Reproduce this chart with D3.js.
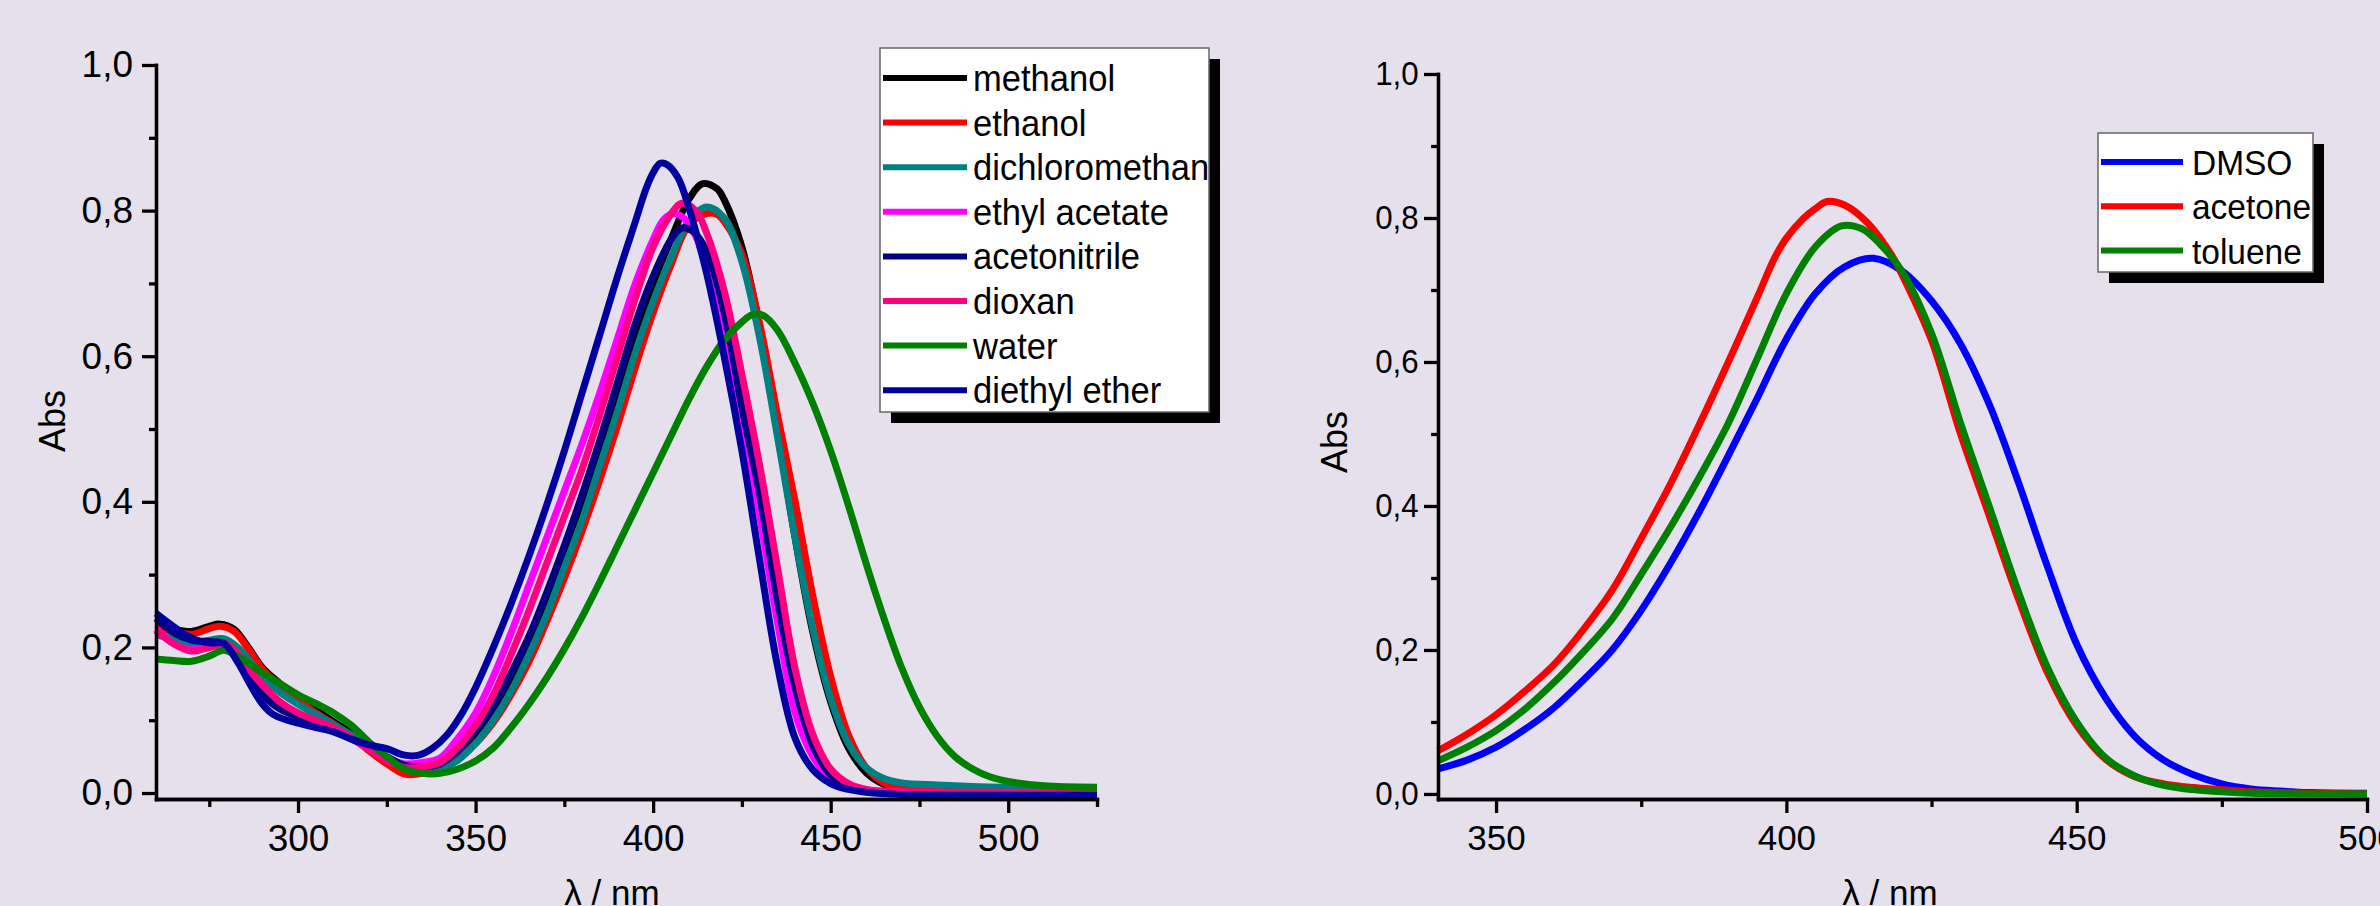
<!DOCTYPE html>
<html>
<head>
<meta charset="utf-8">
<script src="https://cdn.jsdelivr.net/npm/d3@7"></script>
<style>
body { margin: 0; background: #e5e0ec; }
svg { display: block; font-family: "Liberation Sans", Arial, sans-serif; }
</style>
</head>
<body>
<svg id="chart" width="2380" height="906"></svg>
<script>
// left panel: [wavelength nm, absorbance]
var methanol = [[260,.232],[265,.225],[270,.222],[275,.229],[278,.232],[282,.225],[286,.2],[290,.172],[295,.15],[300,.13],[305,.114],[310,.098],[315,.082],[320,.062],[325,.043],[330,.027],[335,.028],[340,.035],[345,.05],[350,.075],[355,.112],[360,.155],[365,.205],[370,.26],[375,.325],[380,.39],[385,.46],[390,.54],[395,.625],[400,.7],[405,.76],[410,.815],[414,.837],[418,.83],[420,.815],[425,.75],[430,.64],[435,.5],[440,.35],[445,.22],[450,.125],[455,.062],[460,.028],[465,.012],[470,.006],[480,.003],[500,.001],[525,0]];
var ethanol = [[260,.228],[265,.222],[270,.218],[275,.226],[278,.229],[282,.222],[286,.198],[290,.17],[295,.147],[300,.128],[305,.11],[310,.095],[315,.078],[320,.058],[325,.04],[330,.026],[335,.027],[340,.035],[345,.048],[350,.068],[355,.097],[360,.135],[365,.18],[370,.235],[375,.295],[380,.36],[385,.43],[390,.505],[395,.585],[400,.66],[405,.725],[410,.78],[415,.796],[418,.795],[420,.785],[425,.74],[430,.645],[435,.52],[440,.4],[445,.27],[450,.16],[455,.08],[460,.035],[465,.014],[470,.006],[480,.003],[500,.002],[525,.001]];
var dichloromethan = [[260,.217],[265,.212],[270,.205],[275,.21],[279,.212],[283,.2],[287,.178],[290,.16],[295,.138],[300,.122],[305,.108],[310,.094],[315,.08],[320,.064],[325,.048],[330,.035],[335,.03],[340,.033],[345,.045],[350,.068],[355,.1],[360,.14],[365,.19],[370,.245],[375,.31],[380,.375],[385,.45],[390,.525],[395,.605],[400,.675],[405,.735],[410,.785],[415,.805],[420,.79],[425,.73],[430,.625],[435,.49],[440,.35],[445,.225],[450,.13],[455,.068],[460,.035],[465,.02],[470,.014],[480,.011],[490,.009],[500,.008],[525,.007]];
var ethylAcetate = [[260,.225],[265,.205],[270,.197],[275,.2],[279,.204],[283,.19],[287,.16],[290,.14],[295,.118],[300,.105],[305,.096],[310,.087],[315,.075],[320,.06],[325,.048],[330,.04],[335,.042],[340,.048],[345,.075],[350,.11],[355,.16],[360,.22],[365,.285],[370,.35],[375,.415],[380,.48],[385,.55],[390,.625],[395,.7],[400,.76],[403,.788],[406,.796],[409,.788],[412,.765],[415,.72],[420,.62],[425,.51],[430,.38],[435,.235],[440,.11],[445,.05],[450,.02],[455,.008],[460,.003],[470,.001],[500,0],[525,0]];
var acetonitrile = [[260,.24],[265,.22],[270,.21],[275,.208],[279,.206],[283,.19],[287,.155],[290,.135],[295,.115],[300,.105],[305,.097],[310,.088],[315,.075],[320,.062],[325,.05],[330,.038],[335,.036],[340,.04],[345,.058],[350,.085],[355,.12],[360,.165],[365,.215],[370,.275],[375,.34],[380,.41],[385,.485],[390,.565],[395,.645],[400,.71],[405,.76],[408,.776],[411,.772],[415,.745],[420,.66],[425,.53],[430,.41],[435,.265],[440,.145],[445,.065],[450,.025],[455,.01],[460,.004],[470,.001],[500,0],[525,0]];
var dioxan = [[260,.223],[265,.205],[270,.195],[275,.2],[279,.206],[283,.192],[287,.165],[290,.148],[295,.125],[300,.11],[305,.1],[310,.09],[315,.076],[320,.06],[325,.045],[330,.035],[335,.036],[340,.042],[345,.063],[350,.093],[355,.135],[360,.19],[365,.25],[370,.315],[375,.38],[380,.445],[385,.52],[390,.6],[395,.68],[400,.75],[405,.795],[408,.81],[412,.8],[415,.77],[420,.69],[425,.575],[430,.45],[435,.31],[440,.17],[445,.08],[450,.033],[455,.013],[460,.005],[470,.002],[500,.001],[525,0]];
var water = [[260,.184],[265,.182],[270,.181],[275,.188],[279,.196],[283,.188],[287,.175],[290,.165],[295,.15],[300,.135],[305,.123],[310,.11],[315,.093],[320,.07],[325,.05],[330,.033],[335,.027],[340,.027],[345,.033],[350,.044],[355,.062],[360,.09],[365,.122],[370,.158],[375,.198],[380,.242],[385,.29],[390,.34],[395,.39],[400,.44],[405,.49],[410,.54],[415,.585],[420,.622],[425,.647],[428,.657],[431,.656],[435,.636],[440,.59],[445,.535],[450,.47],[455,.395],[460,.315],[465,.24],[470,.172],[475,.118],[480,.078],[485,.05],[490,.033],[495,.022],[500,.016],[510,.01],[525,.008]];
var diethylEther = [[260,.247],[264,.232],[268,.218],[272,.209],[276,.206],[279,.206],[283,.18],[287,.145],[290,.122],[293,.108],[297,.1],[300,.096],[305,.09],[310,.084],[315,.074],[320,.066],[325,.061],[330,.052],[334,.052],[338,.062],[342,.08],[346,.108],[350,.145],[355,.2],[360,.26],[365,.325],[370,.395],[375,.47],[380,.55],[385,.63],[390,.71],[395,.785],[398,.83],[400,.852],[402,.865],[404,.863],[407,.845],[410,.805],[415,.715],[420,.6],[425,.47],[430,.32],[435,.175],[440,.075],[445,.032],[450,.013],[455,.005],[460,.001],[470,-.002],[500,-.003],[525,-.003]];

// right panel
var dmso = [[340,.035],[345,.047],[350,.065],[355,.09],[360,.12],[365,.158],[370,.2],[375,.255],[380,.32],[385,.392],[390,.47],[395,.55],[400,.632],[405,.695],[410,.732],[415,.744],[420,.726],[425,.685],[430,.625],[435,.54],[440,.432],[445,.315],[450,.208],[455,.133],[460,.08],[465,.047],[470,.027],[475,.014],[480,.007],[485,.004],[490,.002],[500,.001]];
var acetone = [[340,.06],[345,.083],[350,.11],[355,.143],[360,.18],[365,.228],[370,.283],[375,.355],[380,.43],[385,.513],[390,.6],[395,.69],[398,.745],[400,.772],[403,.8],[405,.813],[407,.823],[410,.818],[414,.793],[418,.75],[420,.72],[425,.63],[430,.5],[435,.385],[440,.27],[445,.168],[450,.095],[455,.048],[460,.024],[465,.014],[470,.009],[475,.006],[480,.003],[490,.001],[500,0]];
var toluene = [[340,.046],[345,.065],[350,.088],[355,.118],[360,.155],[365,.197],[370,.243],[375,.305],[380,.37],[385,.44],[390,.515],[395,.605],[400,.695],[405,.76],[409.5,.789],[413,.785],[416,.765],[420,.725],[425,.64],[430,.515],[435,.398],[440,.28],[445,.175],[450,.1],[455,.05],[460,.025],[465,.012],[470,.006],[475,.003],[480,.001],[500,0]];

var leftNames = ["methanol","ethanol","dichloromethan","ethyl acetate","acetonitrile","dioxan","water","diethyl ether"];
var leftColors = ["#000000","#ff0000","#008080","#ff00ff","#000080","#ff0080","#008000","#0000a0"];
var leftSeries = [methanol, ethanol, dichloromethan, ethylAcetate, acetonitrile, dioxan, water, diethylEther];

var rightNames = ["DMSO","acetone","toluene"];
var rightColors = ["#0000ff","#ff0000","#008000"];
var rightSeries = [dmso, acetone, toluene];

var yMajor = [0, 0.2, 0.4, 0.6, 0.8, 1.0];
var yMinor = [0.1, 0.3, 0.5, 0.7, 0.9];
var leftXMajor = [300, 350, 400, 450, 500];
var leftXMinor = [275, 325, 375, 425, 475, 525];
var rightXMajor = [350, 400, 450, 500];
var rightXMinor = [375, 425, 475];

var svg = d3.select("#chart");

function commaFmt(d){ return d.toFixed(1).replace(".", ","); }

function styleAxis(sel, fontSize, sx){
    sel.select(".domain").attr("stroke","#000").attr("stroke-width",3.3).attr("stroke-linecap","square");
    sel.selectAll(".tick line").attr("stroke","#000").attr("stroke-width",3.3);
    sel.selectAll(".tick text").attr("fill","#000").attr("font-size",fontSize)
        .attr("font-family",'"Liberation Sans", Arial, sans-serif');
    if(sx && sx!==1) sel.selectAll(".tick text").attr("transform","scale("+sx+",1)");
}

function panel(cfg){
    var g = svg.append("g");
    var x = d3.scaleLinear().domain(cfg.xDomain).range(cfg.xRange);
    var y = d3.scaleLinear().domain(cfg.yDomain).range(cfg.yRange);
    var bottom = cfg.yRange[0];

    var line = d3.line()
        .x(function(d){ return x(d[0]); })
        .y(function(d){ return y(d[1]); })
        .curve(d3.curveCatmullRom.alpha(0.5));

    cfg.series.forEach(function(s, i){
        g.append("path").datum(s)
            .attr("fill","none")
            .attr("stroke",cfg.colors[i])
            .attr("stroke-width",7)
            .attr("stroke-linejoin","round")
            .attr("d",line);
    });

    // minor ticks
    g.append("g").attr("transform","translate("+cfg.xRange[0]+",0)")
        .call(d3.axisLeft(y).tickValues(yMinor).tickSize(7).tickSizeOuter(0).tickFormat(""))
        .call(styleAxis, 0);
    g.append("g").attr("transform","translate(0,"+bottom+")")
        .call(d3.axisBottom(x).tickValues(cfg.xMinor).tickSize(8).tickSizeOuter(0).tickFormat(""))
        .call(styleAxis, 0);

    // major ticks
    g.append("g").attr("transform","translate("+cfg.xRange[0]+",0)")
        .call(d3.axisLeft(y).tickValues(yMajor).tickSize(14).tickPadding(cfg.yPad).tickSizeOuter(0).tickFormat(commaFmt))
        .call(styleAxis, cfg.yFont, cfg.ySx);
    g.append("g").attr("transform","translate(0,"+bottom+")")
        .call(d3.axisBottom(x).tickValues(cfg.xMajor).tickSize(14).tickPadding(12).tickSizeOuter(0).tickFormat(d3.format("d")))
        .call(styleAxis, cfg.xFont, 1);

    // axis titles
    g.append("text")
        .attr("transform","translate("+cfg.absPos[0]+","+cfg.absPos[1]+") rotate(-90)")
        .attr("text-anchor","middle").attr("font-size",36).text("Abs");
    g.append("text")
        .attr("x",cfg.lambdaPos[0]).attr("y",cfg.lambdaPos[1])
        .attr("text-anchor","middle").attr("font-size",35).text("\u03bb / nm");

    // legend
    var L = cfg.legend;
    var lg = g.append("g");
    lg.append("rect").attr("x",L.x+11).attr("y",L.y+11).attr("width",L.w).attr("height",L.h).attr("fill","#000");
    lg.append("rect").attr("x",L.x).attr("y",L.y).attr("width",L.w).attr("height",L.h)
        .attr("fill","#fff").attr("stroke","#666").attr("stroke-width",1.5);
    cfg.names.forEach(function(n, i){
        var ry = L.row0 + i*L.step;
        lg.append("line").attr("x1",L.x+3).attr("x2",L.x+3+L.sample).attr("y1",ry).attr("y2",ry)
            .attr("stroke",cfg.colors[i]).attr("stroke-width",6);
        lg.append("text")
            .attr("transform","translate("+(L.x+L.textDx)+","+(ry+13)+") scale("+L.sx+",1)")
            .attr("font-size",L.font).text(n);
    });
}

panel({
    xDomain:[260,525], xRange:[156,1097],
    yDomain:[-0.0082,1.0], yRange:[799,65],
    series:leftSeries, colors:leftColors, names:leftNames,
    xMajor:leftXMajor, xMinor:leftXMinor,
    yFont:37, ySx:1, yPad:9, xFont:37,
    absPos:[65,421], lambdaPos:[612,905],
    legend:{x:880,y:48,w:329,h:364,row0:78,step:44.6,sample:84,textDx:93,font:36,sx:0.96}
});

panel({
    xDomain:[340,500], xRange:[1438,2367],
    yDomain:[-0.007,1.0], yRange:[799,74],
    series:rightSeries, colors:rightColors, names:rightNames,
    xMajor:rightXMajor, xMinor:rightXMinor,
    yFont:34, ySx:0.92, yPad:7, xFont:35,
    absPos:[1347,442], lambdaPos:[1890,905],
    legend:{x:2098,y:133,w:215,h:139,row0:162,step:44.3,sample:82,textDx:94,font:36,sx:0.93}
});
</script>
</body>
</html>
